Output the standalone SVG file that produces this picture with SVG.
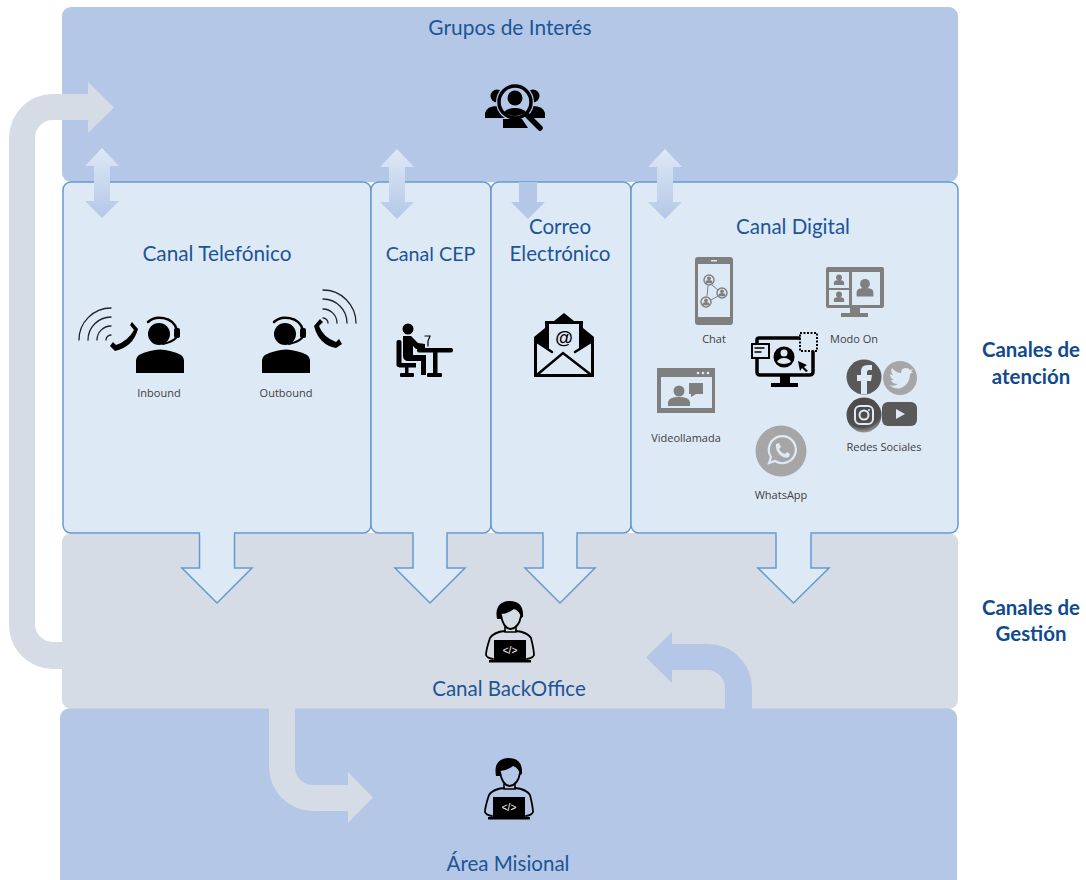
<svg xmlns="http://www.w3.org/2000/svg" xmlns:xlink="http://www.w3.org/1999/xlink" width="1086" height="880" viewBox="0 0 1086 880">
<style>
text{font-family:"Lato","Open Sans","Liberation Sans",sans-serif;text-anchor:middle}
.t{font-size:20.5px;fill:#1c5596}
.b{font-size:20.4px;font-weight:700;fill:#0f4a8f}
.s{font-size:11px;fill:#404040;font-family:"Open Sans","Liberation Sans",sans-serif}
.band{fill:#b4c7e7}
.gray{fill:#d5dce6}
.panel{fill:#dee9f6;stroke:#659ad0;stroke-width:1.5}
.down{fill:#dee9f6;stroke:#659ad0;stroke-width:1.5;stroke-linejoin:miter}
.k{fill:#000}
.ks{fill:none;stroke:#000;stroke-linecap:round}
.w{fill:none;stroke:#222;stroke-width:1.3;stroke-linecap:round}
.g{fill:#7f7f7f}
.l{fill:#dee9f6}
</style>
<defs>
<linearGradient id="dbl" x1="0" y1="0" x2="0" y2="1"><stop offset="0" stop-color="#dee9f6"/><stop offset="1" stop-color="#b4c7e7"/></linearGradient>
<radialGradient id="insta" cx=".45" cy=".25" r=".85"><stop offset="0" stop-color="#4a4a4a"/><stop offset=".7" stop-color="#4f4f4f"/><stop offset="1" stop-color="#d0d0d0"/></radialGradient>
<g id="agent">
<circle class="k" cx="159" cy="334" r="11"/>
<path class="ks" stroke-width="2.500" d="M148 322C155 315 173 316 177 330"/>
<rect class="k" x="174" y="328" width="6" height="10" rx="2"/>
<path class="ks" stroke-width="2" d="M176 338Q172 342 163 344"/>
<path class="k" d="M136 373V360Q136 354 150 351Q160 348 170 351Q184 354 184 360V373Z"/>
</g>
<g id="coder">
<path class="k" d="M497 619Q494 603 508 601Q524 600 523 617L521 618Q520 611 514 609Q507 614 501 614L501 619Z"/>
<path class="ks" stroke-width="1.800" d="M501 615Q503 628 510.500 629Q519 628 521 616"/>
<path class="ks" stroke-width="1.600" d="M505 627V632H516V627"/>
<path class="ks" stroke-width="1.800" d="M505 631Q494 632 490 638Q486 650 486 655Q487 658 493 659M516 631Q527 632 531 638Q534 650 534 655Q533 658 527 659"/>
<rect class="k" x="494" y="640" width="32" height="20"/>
<rect class="k" x="489" y="660" width="42" height="2.500"/>
<text x="510" y="654" style="font-size:10px;fill:#fff;font-family:'Liberation Sans',sans-serif">&lt;/&gt;</text>
</g>
<path id="dblarrow" fill="url(#dbl)" d="M0 0L17 18H8V53H17L0 70L-17 53H-8V18H-17Z"/>
<g id="mini"><circle cx="0" cy="-3" r="3.500"/><path d="M-6 6V3Q-6 0 0 0Q6 0 6 3V6Z"/></g>
</defs>

<g id="node-grupos">
<rect class="band" x="62" y="7" width="896" height="175" rx="9"/>
<text class="t" x="510" y="35" style="font-size:20.9px">Grupos de Interés</text>
<g id="icon-grupos">
<circle class="k" cx="497" cy="96" r="6.500"/><circle class="k" cx="533" cy="96" r="6.500"/>
<path class="k" d="M485 118V113Q487 106 497 106Q507 106 509 113V118Z"/>
<path class="k" d="M521 118V113Q523 106 533 106Q543 106 545 113V118Z"/>
<circle cx="515" cy="102" r="19" fill="#b4c7e7"/>
<circle cx="515" cy="102" r="16" fill="#b4c7e7" stroke="#000" stroke-width="3.500"/>
<circle class="k" cx="515" cy="98" r="7.500"/>
<path class="k" d="M504 112Q508 108 515 108Q522 108 526 112Q520 116 515 116Q509 116 504 112Z"/>
<path class="k" d="M503 119H522L528 128H503Z"/>
<path class="ks" stroke-width="5.500" d="M528 116L540 128"/>
</g>
</g>

<g id="node-gestion">
<rect class="gray" x="62" y="533" width="896" height="176" rx="9"/>
<use xlink:href="#coder" href="#coder"/>
<text class="t" x="509" y="696">Canal BackOffice</text>
</g>

<g id="node-misional">
<rect class="band" x="60" y="708.500" width="897" height="185" rx="9"/>
<use xlink:href="#coder" href="#coder" transform="translate(-1 157)"/>
<text class="t" x="508" y="871">Área Misional</text>
</g>

<g id="node-telefonico">
<rect class="panel" x="63" y="182" width="308" height="351" rx="8"/>
<text class="t" x="217" y="261" style="font-size:20.8px">Canal Telefónico</text>
<g id="icon-inbound">
<use xlink:href="#agent" href="#agent"/>
<path class="w" d="M79 340A32 32 0 0 1 111 308M88 340A23 23 0 0 1 111 317M97 340A14 14 0 0 1 111 326M106 340A5 5 0 0 1 111 335"/>
<path class="k" d="M110 346L115 351Q133 347 138 329L132 322L130 325L134 330Q128 341 116 345L113 342Z"/>
</g>
<g id="icon-outbound">
<use xlink:href="#agent" href="#agent" transform="translate(126 0)"/>
<path class="w" d="M323 290A33 33 0 0 1 356 323M323 299A24 24 0 0 1 347 323M323 309A14 14 0 0 1 337 323M323 318A5 5 0 0 1 328 323"/>
<path class="k" d="M314 326L320 319L323 322L319 326Q323 337 336 342L339 339L342 344L336 348Q319 345 314 326Z"/>
</g>
<text class="s" x="159" y="397">Inbound</text>
<text class="s" x="286" y="397">Outbound</text>
</g>

<g id="node-cep">
<rect class="panel" x="371" y="182" width="120" height="351" rx="8"/>
<text class="t" x="430.500" y="261" style="font-size:19.7px">Canal CEP</text>
<g id="icon-cep">
<circle class="k" cx="408" cy="329" r="5.500"/>
<path class="k" d="M403 336H411L418 343L425 344V349H416L413 346V355H426V375H421V361H407Q403 360 403 356Z"/>
<rect class="k" x="396.500" y="340" width="5" height="27" rx="2"/>
<rect class="k" x="399" y="363" width="17" height="4.500"/>
<rect class="k" x="405" y="366" width="3.500" height="8"/>
<rect class="k" x="400" y="373" width="14" height="4" rx="1"/>
<rect class="k" x="417" y="348" width="36" height="4.500" rx="2"/>
<rect class="k" x="433" y="351" width="4.500" height="23"/>
<rect class="k" x="427" y="373" width="15" height="4" rx="1"/>
<path class="ks" stroke-width="1.200" d="M425 336H430L428 341V346"/>
</g>
</g>

<g id="node-correo">
<rect class="panel" x="491" y="182" width="140" height="351" rx="8"/>
<text class="t" x="560" y="234">Correo</text>
<text class="t" x="560" y="261">Electrónico</text>
<g id="icon-correo">
<path class="k" d="M564 313L574 321H583V328L594 337V377H534V337L545 328V321H554Z"/>
<path class="l" d="M549 324H579V349L591 341V374H537V341L549 349Z"/>
<path class="ks" stroke-width="2.500" d="M538 374L563 353L590 374M537 342L552 352M591 342L575 352"/>
<text x="564" y="344" style="font-size:18px;font-weight:700;fill:#000;font-family:'Liberation Sans',sans-serif">@</text>
</g>
</g>

<g id="node-digital">
<rect class="panel" x="631" y="182" width="327" height="351" rx="8"/>
<text class="t" x="793" y="234">Canal Digital</text>
<g id="icon-chat">
<rect class="g" x="695" y="257" width="38" height="68" rx="3"/>
<rect class="l" x="698" y="264" width="32" height="53"/>
<rect class="l" x="711" y="260" width="6" height="1.500"/>
<path fill="none" stroke="#7f7f7f" stroke-width="1" d="M712 285L718 290M708 286L707 296M711 300L718 296"/>
<g fill="none" stroke="#7f7f7f" stroke-width="1.400"><circle cx="709" cy="280" r="5"/><circle cx="722" cy="293" r="5"/><circle cx="706" cy="302" r="5"/></g>
<g class="g"><use xlink:href="#mini" href="#mini" transform="translate(709 280) scale(.55)"/><use xlink:href="#mini" href="#mini" transform="translate(722 293) scale(.55)"/><use xlink:href="#mini" href="#mini" transform="translate(706 302) scale(.55)"/></g>
</g>
<text class="s" x="714" y="343">Chat</text>
<g id="icon-modo">
<rect class="g" x="826" y="267" width="58" height="41" rx="2"/>
<rect class="g" x="850" y="307" width="10" height="6"/>
<rect class="g" x="841" y="313" width="27" height="4"/>
<rect class="l" x="829" y="272" width="20" height="16"/>
<rect class="l" x="829" y="290" width="20" height="15"/>
<rect class="l" x="852" y="272" width="28" height="33"/>
<g class="g"><use xlink:href="#mini" href="#mini" transform="translate(839 280) scale(.85)"/><use xlink:href="#mini" href="#mini" transform="translate(839 297) scale(.85)"/><use xlink:href="#mini" href="#mini" transform="translate(865 288) scale(1.400)"/></g>
</g>
<text class="s" x="854" y="343">Modo On</text>
<g id="icon-monitor">
<path class="ks" stroke-width="3.500" d="M799 338H759Q757 338 757 340V343M757 359V372Q757 375 760 375H809Q813 375 813 372V352"/>
<rect class="k" x="780" y="376" width="10" height="8"/>
<rect class="k" x="771" y="383" width="27" height="4"/>
<rect x="752" y="344" width="17" height="14" fill="#dee9f6" stroke="#000" stroke-width="2"/>
<path class="ks" stroke-width="1.500" d="M755 348H764M755 352H761"/>
<rect x="800" y="333" width="17" height="18" fill="none" stroke="#000" stroke-width="2" stroke-dasharray="2 1.500"/>
<circle class="k" cx="784" cy="357" r="10.500"/>
<circle class="l" cx="784" cy="353" r="3.500"/>
<path class="l" d="M777 362Q779 358 784 358Q789 358 791 362Q787 364 784 364Q780 364 777 362Z"/>
<path class="k" d="M798 361L807 365L804 367L808 371L806 372L802 368L800 371Z"/>
</g>
<g id="icon-video">
<rect class="g" x="657" y="368" width="58" height="45"/>
<rect class="l" x="661" y="377" width="51" height="31"/>
<g fill="#dee9f6"><circle cx="698" cy="373" r="1.300"/><circle cx="703" cy="373" r="1.300"/><circle cx="708" cy="373" r="1.300"/></g>
<circle class="g" cx="679" cy="391" r="5.500"/>
<path class="g" d="M668 406V402Q669 397 679 397Q689 397 690 402V406Z"/>
<path class="g" d="M689 383H703V394H696L691 397V394H689Z"/>
</g>
<text class="s" x="686" y="442">Videollamada</text>
<g id="icon-whatsapp">
<circle cx="781" cy="451" r="25.500" fill="#a6a6a6"/>
<path fill="none" stroke="#dee9f6" stroke-width="2.200" d="M769 463L771 457A13.500 13.500 0 1 1 775 461Z"/>
<path fill="#dee9f6" d="M776 444L779 443L781 447L779 449Q781 453 785 454L787 452L790 454L789 457Q785 459 780 455Q775 450 776 444Z"/>
</g>
<text class="s" x="781" y="499">WhatsApp</text>
<g id="icon-social">
<circle cx="864" cy="377" r="17.500" fill="#595959"/>
<path fill="#dee9f6" d="M861 394V381H857V375H861V371Q861 365 868 365H872V370H869Q867 370 867 372V375H872L871 381H867V394Z"/>
<circle cx="900" cy="378" r="17" fill="#a6a6a6"/>
<path fill="#dee9f6" d="M889 385Q894 387 898 384Q892 384 891 380H894Q890 378 890 374Q892 375 893 375Q890 371 892 368Q896 373 901 373Q901 368 906 368Q909 368 910 370L913 369L911 372L913 372L910 374Q910 384 901 388Q895 390 889 385Z"/>
<circle cx="864" cy="415" r="17.500" fill="url(#insta)"/>
<rect x="855" y="406" width="18" height="18" rx="5" fill="none" stroke="#dee9f6" stroke-width="2"/>
<circle cx="864" cy="415" r="4.500" fill="none" stroke="#dee9f6" stroke-width="2"/>
<circle cx="869" cy="410" r="1" fill="#dee9f6"/>
<rect x="882" y="402" width="35" height="24" rx="6" fill="#595959"/>
<path fill="#dee9f6" d="M896 409L905 414L896 419Z"/>
</g>
<text class="s" x="884" y="451">Redes Sociales</text>
</g>

<g id="node-labels">
<text class="b" x="1031" y="357">Canales de</text>
<text class="b" x="1031" y="384">atención</text>
<text class="b" x="1031" y="615">Canales de</text>
<text class="b" x="1031" y="641">Gestión</text>
</g>

<g id="connectors">
<use xlink:href="#dblarrow" href="#dblarrow" transform="translate(102 148)"/>
<use xlink:href="#dblarrow" href="#dblarrow" transform="translate(397 149)"/>
<use xlink:href="#dblarrow" href="#dblarrow" transform="translate(665 149)"/>
<path class="band" d="M519 182H537V202H545L528 219L511 202H519Z"/>
<path class="down" d="M199.500 533V568H182L217 603L252 568H234.500V533"/>
<rect class="l" x="200.300" y="531" width="33.400" height="4"/>
<path class="down" d="M413 533V568H395L430 603L465 568H447V533"/>
<rect class="l" x="413.800" y="531" width="32.400" height="4"/>
<path class="down" d="M543 533V568H525L560 603L595 568H577V533"/>
<rect class="l" x="543.800" y="531" width="32.400" height="4"/>
<path class="down" d="M776 533V568H758L793.500 603L829 568H811V533"/>
<rect class="l" x="776.800" y="531" width="33.400" height="4"/>
<path class="gray" d="M70 669H53A44 44 0 0 1 9 625V138A44 44 0 0 1 53 94H88V82L114 107.500L88 133V120H53A18 18 0 0 0 35 138V625A18 18 0 0 0 53 642H70Z"/>
<path class="gray" d="M269 705V767A44 44 0 0 0 313 811H348V823L373 797.500L348 772V785H313A18 18 0 0 1 295 767V705Z"/>
<path class="band" d="M752 712V688A44 44 0 0 0 708 644H672V632L646 657.500L672 683V670H707A18 18 0 0 1 725 688V712Z"/>
</g>
</svg>
